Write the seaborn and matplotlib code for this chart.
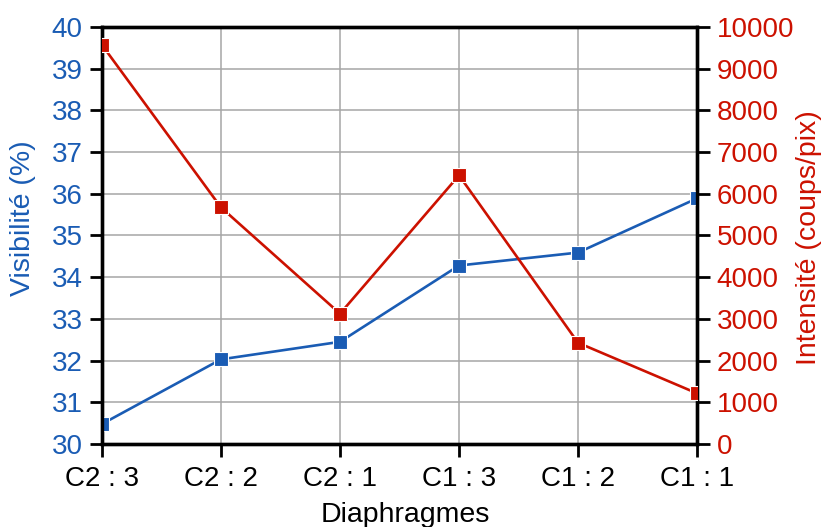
import matplotlib
matplotlib.use("Agg")
import matplotlib.pyplot as plt
import seaborn as sns
import pandas as pd

categories = ["C2 : 3", "C2 : 2", "C2 : 1", "C1 : 3", "C1 : 2", "C1 : 1"]
visibilite = [30.48, 32.03, 32.45, 34.28, 34.59, 35.89]
intensite = [9567, 5673, 3125, 6442, 2428, 1215]
left_ticks = list(range(30, 41))
right_ticks = list(range(0, 10001, 1000))

sns.set_theme(style="white")
plt.rcParams['font.family'] = ['Liberation Sans', 'DejaVu Sans']

blue = "#1a5cb4"
red = "#cc1100"

df = pd.DataFrame({"x": range(len(categories)), "vis": visibilite, "int": intensite})

fig = plt.figure(figsize=(8.24, 5.27), dpi=100)
ax = fig.add_axes([0.1238, 0.1575, 0.7221, 0.7913])
ax2 = ax.twinx()

sns.lineplot(data=df, x="x", y="vis", ax=ax, color=blue, marker="s", markersize=9.5,
             markeredgecolor="white", markeredgewidth=0.8, linewidth=1.9, zorder=3)
sns.lineplot(data=df, x="x", y="int", ax=ax2, color=red, marker="s", markersize=9.5,
             markeredgecolor="white", markeredgewidth=0.8, linewidth=1.9, zorder=3)

ax.set_xlim(0, len(categories) - 1)
ax.set_ylim(30, 40)
ax2.set_ylim(0, 10000)
ax.set_xticks(range(len(categories)))
ax.set_xticklabels(categories)
ax.set_yticks(left_ticks)
ax2.set_yticks(right_ticks)

ax.grid(True, color="#a6a6a6", linewidth=1.1)
ax.set_axisbelow(True)

lab_fs = 20.5
tick_fs = 20
ax.set_xlabel("Diaphragmes", fontsize=lab_fs, color="black")
ax.set_ylabel("Visibilité (%)", fontsize=lab_fs, color=blue)
ax2.set_ylabel("Intensité (coups/pix)", fontsize=lab_fs, color=red)
ax.xaxis.set_label_coords(0.509, -0.139)
ax.xaxis.label.set_va("top")
ax.yaxis.set_label_coords(-0.111, 0.541)
ax2.yaxis.set_label_coords(1.166, 0.495)

ax.tick_params(axis="x", labelsize=tick_fs, colors="black", direction="out", length=9, width=2, pad=7, bottom=True)
ax.tick_params(axis="y", labelsize=tick_fs, labelcolor=blue, color="black", direction="out", length=9, width=2, pad=5, left=True)
ax2.tick_params(axis="y", labelsize=tick_fs, labelcolor=red, color="black", direction="out", length=9, width=2, pad=5, right=True)

for a in (ax, ax2):
    for s in a.spines.values():
        s.set_color("black")
        s.set_linewidth(2.4)

fig.savefig("out.png", dpi=100)
